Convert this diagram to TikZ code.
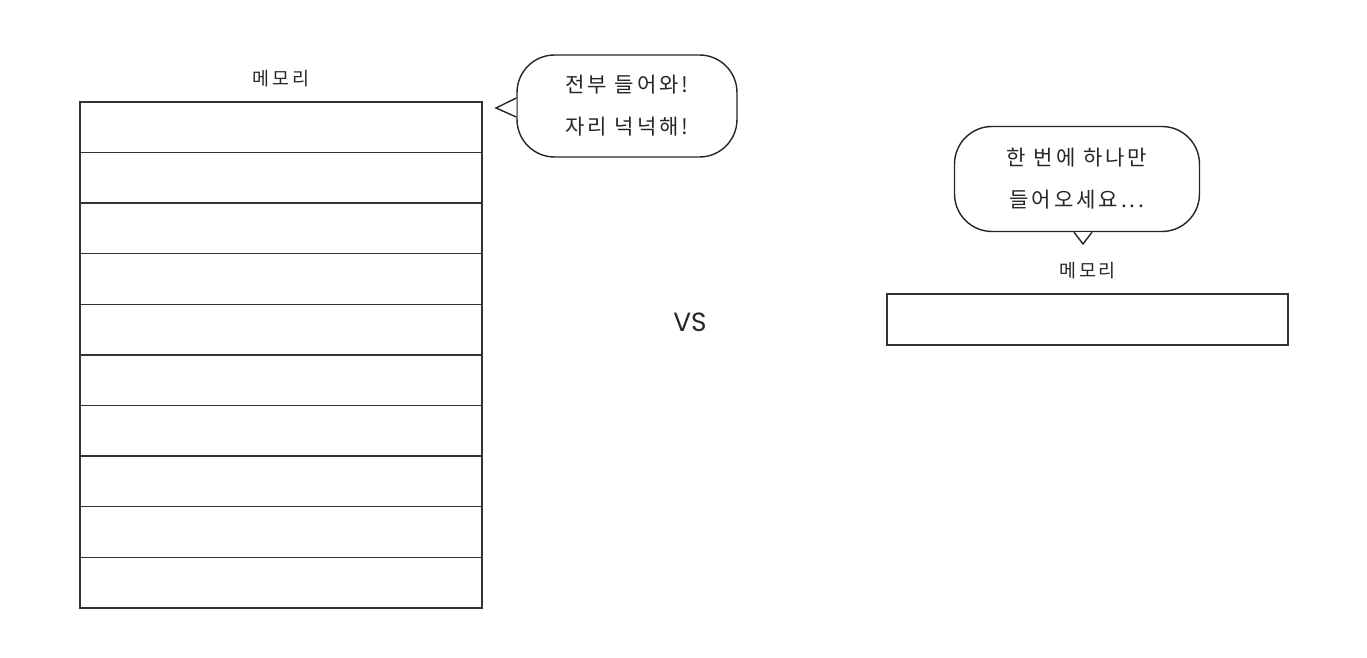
\documentclass[tikz,border=0pt]{standalone}
\usepackage{fontspec}
\newfontfamily\kr[LetterSpace=14]{Noto Sans CJK KR}
\newfontfamily\vsfont{Poppins}
\usetikzlibrary{positioning, calc}

\tikzset{
  cell/.style={draw=black!80, line width=0.8pt, rectangle, minimum width=8.04cm, minimum height=1.012cm, inner sep=0pt, outer sep=0pt},
  memlabel/.style={font=\kr\fontsize{10.5}{12}\selectfont, text=black!85},
  bubble/.style={draw=black!85, line width=0.8pt, fill=white, rounded corners=0.75cm, align=center, font=\kr\fontsize{12}{24}\selectfont, text=black!85}
}

\begin{document}
\begin{tikzpicture}[x=0.02cm, y=-0.02cm]
  \useasboundingbox (0,0) rectangle (1367,658);

  % big memory: ten rows
  \node[cell] (row1) at (281,127.3) {};
  \foreach \i in {2,...,10} {
    \pgfmathtruncatemacro\prev{\i-1}
    \node[cell, below=0pt of row\prev] (row\i) {};
  }
  \node[memlabel, above=5pt of row1] (labA) {메모리};

  % bubble on the left
  \node[bubble, minimum width=4.4cm, minimum height=2.04cm] (sayA) at (627,106) {전부 들어와!\\자리 넉넉해!};
  \draw[black!85, line width=0.8pt, fill=white] ($(sayA.west)+(0,-8)$) -- (496,108) -- ($(sayA.west)+(0,11)$);

  \node[font=\vsfont\fontsize{15}{18}\selectfont, text=black!85] (vs) at (690,322) {VS};

  % small memory: one row
  \node[cell, minimum width=8.02cm, minimum height=1.02cm] (memB) at (1087.5,319.5) {};
  \node[memlabel, above=5pt of memB] (labB) {메모리};

  % bubble on the right
  \node[bubble, minimum width=4.9cm, minimum height=2.1cm] (sayB) at (1077,179) {한 번에 하나만\\들어오세요...};
  \draw[black!85, line width=0.8pt, fill=white] ($(sayB.south)+(-3,0)$) -- (1083,244) -- ($(sayB.south)+(15,0)$);
\end{tikzpicture}
\end{document}
